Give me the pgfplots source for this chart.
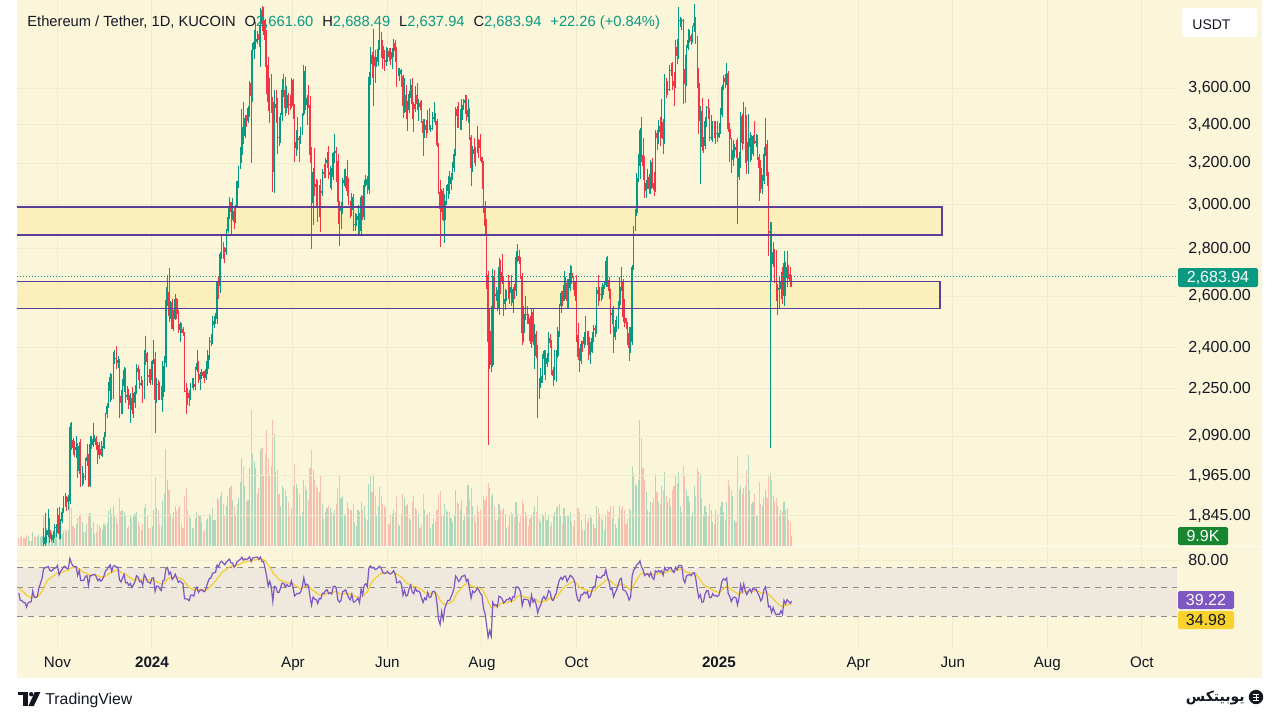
\documentclass[border=0pt]{standalone}
\usepackage{fontspec}
\setmainfont{Liberation Sans}
\newfontfamily\arabicfont[Script=Arabic]{DejaVu Sans}
\TeXXeTstate=1
\usepackage{pgfplots}
\pgfplotsset{compat=1.18}
\usepackage{pgfplotstable}

\definecolor{bgc}{RGB}{251,246,218}
\definecolor{gridc}{RGB}{240,235,204}
\definecolor{tvtext}{RGB}{19,23,34}
\definecolor{tvg}{RGB}{8,153,129}
\definecolor{upc}{RGB}{8,153,129}
\definecolor{dnc}{RGB}{242,54,69}
\definecolor{zonef}{RGB}{251,239,178}
\definecolor{zoned}{RGB}{92,62,152}
\definecolor{bandc}{RGB}{238,233,220}
\definecolor{dashc}{RGB}{140,140,140}
\definecolor{rsic}{RGB}{126,87,194}
\definecolor{mac}{RGB}{245,205,45}
\definecolor{volg}{RGB}{22,135,48}
\definecolor{rsiy}{RGB}{250,210,45}

\pgfplotstableread{
d o h l c v
-86 1647 1662 1627 1633 8
-85 1633 1637 1575 1580 9
-84 1580 1600 1555 1579 10
-83 1579 1595 1560 1567 8
-82 1567 1580 1552 1566 8
-81 1566 1570 1522 1539 11
-80 1539 1566 1525 1553 10
-79 1553 1562 1545 1556 5
-78 1556 1566 1548 1557 5
-77 1557 1630 1553 1599 14
-76 1599 1605 1557 1565 10
-75 1565 1583 1551 1563 9
-74 1563 1574 1540 1567 9
-73 1567 1620 1562 1605 11
-72 1605 1640 1598 1629 9
-71 1629 1680 1615 1664 10
-70 1664 1810 1650 1765 30
-69 1765 1855 1760 1787 32
-68 1787 1805 1770 1790 18
-67 1790 1865 1785 1804 22
-66 1804 1840 1770 1781 17
-65 1781 1797 1772 1776 9
-64 1776 1802 1770 1792 10
-63 1792 1822 1784 1812 12
-62 1812 1822 1785 1815 13
-61 1815 1867 1798 1847 20
-60 1847 1870 1780 1794 18
-59 1794 1836 1780 1832 14
-58 1832 1867 1824 1857 12
-57 1857 1905 1853 1894 15
-56 1894 1912 1870 1900 16
-55 1900 1905 1859 1886 15
-54 1886 1908 1862 1890 16
-53 1890 2135 1880 2121 45
-52 2121 2137 2045 2077 38
-51 2077 2085 2030 2053 20
-50 2053 2073 2022 2045 18
-49 2045 2090 2020 2054 22
-48 2054 2067 1958 1981 28
-47 1981 2070 1970 2058 30
-46 2058 2080 1930 1961 32
-45 1961 1995 1935 1962 24
-44 1962 1975 1940 1964 14
-43 1964 2020 1952 2011 14
-42 2011 2065 1995 2022 22
-41 2022 2032 1930 1934 30
-40 1934 2090 1930 2064 33
-39 2064 2090 2050 2062 18
-38 2062 2135 2055 2080 24
-37 2080 2095 2072 2085 12
-36 2085 2090 2045 2063 14
-35 2063 2071 2000 2028 22
-34 2028 2070 2016 2048 20
-33 2048 2075 2025 2028 18
-32 2028 2058 2022 2052 16
-31 2052 2105 2050 2087 22
-30 2087 2168 2086 2165 20
-29 2165 2200 2150 2192 23
-28 2192 2275 2185 2242 35
-27 2242 2308 2205 2293 38
-26 2293 2305 2210 2232 32
-25 2232 2382 2215 2357 40
-24 2357 2390 2338 2361 30
-23 2361 2405 2320 2344 28
-22 2344 2368 2325 2353 22
-21 2353 2358 2150 2226 48
-20 2226 2245 2165 2202 35
-19 2202 2285 2165 2260 36
-18 2260 2330 2240 2316 34
-17 2316 2325 2200 2221 30
-16 2221 2260 2212 2228 18
-15 2228 2250 2180 2196 20
-14 2196 2235 2135 2218 30
-13 2218 2256 2165 2177 28
-12 2177 2237 2150 2201 30
-11 2201 2265 2185 2240 32
-10 2240 2340 2232 2326 34
-9 2326 2335 2283 2312 24
-8 2312 2320 2250 2265 20
-7 2265 2295 2260 2272 16
-6 2272 2282 2200 2232 22
-5 2232 2392 2215 2380 38
-4 2380 2445 2335 2346 42
-3 2346 2385 2260 2300 30
-2 2300 2320 2270 2292 18
-1 2292 2320 2265 2281 18
0 2281 2355 2265 2352 20
1 2352 2430 2340 2356 36
2 2356 2385 2100 2210 69
3 2210 2290 2200 2269 38
4 2269 2280 2210 2268 36
5 2268 2275 2210 2240 22
6 2240 2260 2210 2222 20
7 2222 2350 2170 2331 45
8 2331 2370 2240 2344 52
9 2344 2640 2330 2584 97
10 2584 2690 2560 2619 66
11 2619 2717 2500 2523 56
12 2523 2580 2510 2577 32
13 2577 2590 2470 2472 28
14 2472 2545 2465 2510 34
15 2510 2610 2505 2588 40
16 2588 2595 2510 2528 35
17 2528 2545 2455 2467 38
18 2467 2500 2420 2490 40
19 2490 2495 2455 2471 22
20 2471 2480 2445 2454 18
21 2454 2460 2240 2243 50
22 2243 2270 2165 2242 58
23 2242 2255 2195 2235 36
24 2235 2245 2190 2218 30
25 2218 2272 2210 2267 28
26 2267 2290 2255 2268 18
27 2268 2290 2245 2256 18
28 2256 2330 2245 2317 28
29 2317 2390 2310 2343 34
30 2343 2350 2270 2283 32
31 2283 2310 2245 2304 30
32 2304 2323 2285 2310 24
33 2310 2315 2290 2296 14
34 2296 2315 2270 2290 16
35 2290 2350 2280 2320 26
36 2320 2390 2305 2373 28
37 2373 2440 2355 2420 32
38 2420 2450 2405 2424 30
39 2424 2520 2415 2488 38
40 2488 2520 2475 2502 26
41 2502 2535 2490 2508 26
42 2508 2665 2490 2660 48
43 2660 2685 2590 2643 46
44 2643 2785 2615 2778 50
45 2778 2865 2755 2825 54
46 2825 2830 2755 2803 42
47 2803 2810 2740 2786 30
48 2786 2890 2775 2880 40
49 2880 2985 2870 2944 50
50 2944 3035 2935 3014 58
51 3014 3015 2860 2967 60
52 2967 3030 2930 2971 46
53 2971 2990 2890 2922 40
54 2922 3000 2915 2991 30
55 2991 3115 2985 3112 42
56 3112 3190 3080 3178 48
57 3178 3285 3170 3242 64
58 3242 3485 3200 3385 88
59 3385 3525 3300 3341 80
60 3341 3450 3330 3434 60
61 3434 3450 3390 3421 44
62 3421 3500 3410 3489 46
63 3489 3640 3440 3628 78
64 3628 3822 3200 3554 136
65 3554 3860 3520 3818 92
66 3818 3940 3765 3868 84
67 3868 3995 3825 3886 78
68 3886 3935 3855 3917 52
69 3917 3970 3840 3880 58
70 3880 4080 3720 4066 96
71 4066 4093 3935 3981 98
72 3981 4085 3910 4005 70
73 4005 4010 3720 3882 92
74 3882 3940 3565 3734 116
75 3734 3780 3475 3524 88
76 3524 3660 3410 3644 70
77 3644 3680 3460 3521 80
78 3521 3550 3060 3159 126
79 3159 3590 3055 3514 112
80 3514 3590 3410 3490 74
81 3490 3545 3250 3334 76
82 3334 3440 3290 3332 52
83 3332 3462 3305 3454 40
84 3454 3650 3420 3589 60
85 3589 3680 3550 3587 58
86 3587 3665 3445 3491 56
87 3491 3610 3465 3560 50
88 3560 3575 3450 3509 44
89 3509 3560 3480 3508 30
90 3508 3655 3490 3647 38
91 3647 3650 3430 3503 60
92 3503 3510 3210 3279 82
93 3279 3370 3240 3311 62
94 3311 3440 3270 3330 58
95 3330 3340 3205 3320 52
96 3320 3390 3300 3353 30
97 3353 3460 3345 3455 34
98 3455 3730 3445 3696 66
99 3696 3725 3480 3505 60
100 3505 3560 3400 3545 56
101 3545 3615 3490 3506 46
102 3506 3555 3200 3242 78
103 3242 3285 2800 3008 96
104 3008 3180 2905 3156 76
105 3156 3280 3040 3101 66
106 3101 3125 2985 3086 60
107 3086 3120 2920 2985 58
108 2985 3095 2945 3067 54
109 3067 3125 2875 3056 70
110 3056 3175 3040 3156 42
111 3156 3195 3130 3148 28
112 3148 3230 3130 3202 34
113 3202 3260 3180 3219 38
114 3219 3290 3125 3142 40
115 3142 3190 3080 3157 38
116 3157 3180 3070 3132 34
117 3132 3260 3120 3252 32
118 3252 3350 3200 3263 36
119 3263 3285 3110 3215 42
120 3215 3250 2910 3013 58
121 3013 3020 2815 2970 70
122 2970 3015 2890 2989 48
123 2989 3130 2955 3104 50
124 3104 3170 3090 3118 32
125 3118 3170 3080 3137 30
126 3137 3220 3040 3064 44
127 3064 3130 3000 3006 38
128 3006 3020 2940 2974 36
129 2974 3055 2950 3037 36
130 3037 3050 2880 2910 42
131 2910 2960 2880 2913 24
132 2913 2955 2900 2930 20
133 2930 3000 2865 2950 36
134 2950 2960 2865 2881 34
135 2881 3045 2865 3037 44
136 3037 3040 2930 2945 36
137 2945 3120 2930 3092 40
138 3092 3145 3085 3122 28
139 3122 3140 3050 3072 26
140 3072 3690 3050 3663 62
141 3663 3840 3620 3789 70
142 3789 3810 3660 3737 54
143 3737 3950 3500 3779 72
144 3779 3820 3630 3727 50
145 3727 3780 3720 3749 30
146 3749 3880 3725 3826 40
147 3826 3975 3820 3893 59
148 3893 3930 3775 3843 50
149 3843 3880 3710 3767 42
150 3767 3820 3700 3747 40
151 3747 3840 3725 3761 38
152 3761 3835 3750 3814 26
153 3814 3830 3755 3780 22
154 3780 3830 3730 3768 30
155 3768 3830 3710 3810 32
156 3810 3885 3780 3865 36
157 3865 3880 3750 3812 34
158 3812 3840 3605 3678 50
159 3678 3715 3670 3681 22
160 3681 3715 3640 3705 20
161 3705 3710 3605 3666 32
162 3666 3675 3435 3498 52
163 3498 3655 3465 3560 48
164 3560 3615 3430 3468 40
165 3468 3530 3365 3478 42
166 3478 3585 3465 3565 28
167 3565 3650 3545 3620 26
168 3620 3655 3430 3511 44
169 3511 3520 3360 3484 50
170 3484 3610 3470 3560 38
171 3560 3630 3480 3513 36
172 3513 3540 3420 3517 32
173 3517 3530 3480 3494 18
174 3494 3535 3410 3418 22
175 3418 3430 3240 3354 52
176 3354 3430 3330 3396 36
177 3396 3425 3330 3372 30
178 3372 3480 3355 3445 32
179 3445 3490 3370 3377 34
180 3377 3400 3360 3380 18
181 3380 3470 3370 3432 22
182 3432 3520 3415 3440 28
183 3440 3465 3400 3420 24
184 3420 3430 3285 3292 36
185 3292 3305 3050 3060 52
186 3060 3120 2810 2982 55
187 2982 3075 2965 3066 32
188 3066 3080 2925 2930 30
189 2930 3050 2825 3020 42
190 3020 3095 3000 3065 36
191 3065 3140 3025 3101 34
192 3101 3165 3050 3100 34
193 3100 3155 3070 3135 28
194 3135 3210 3120 3177 24
195 3177 3275 3160 3246 30
196 3246 3495 3240 3485 56
197 3485 3500 3380 3444 44
198 3444 3520 3380 3389 42
199 3389 3485 3370 3427 36
200 3427 3540 3370 3505 46
201 3505 3540 3480 3517 26
202 3517 3560 3455 3536 30
203 3536 3560 3420 3442 40
204 3442 3540 3410 3480 61
205 3480 3490 3320 3337 46
206 3337 3345 3090 3176 58
207 3176 3290 3160 3275 40
208 3275 3330 3200 3247 30
209 3247 3285 3190 3270 24
210 3270 3395 3255 3321 40
211 3321 3325 3230 3280 34
212 3280 3350 3215 3231 36
213 3231 3235 3075 3203 44
214 3203 3215 2960 2988 50
215 2988 3020 2860 2903 46
216 2903 2935 2630 2690 50
217 2690 2705 2060 2420 63
218 2420 2550 2320 2462 58
219 2462 2560 2310 2335 50
220 2335 2715 2330 2683 52
221 2683 2710 2555 2600 40
222 2600 2640 2580 2609 26
223 2609 2625 2540 2555 26
224 2555 2760 2525 2723 42
225 2723 2750 2610 2700 36
226 2700 2780 2650 2663 36
227 2663 2680 2520 2570 38
228 2570 2630 2545 2590 32
229 2590 2625 2580 2615 18
230 2615 2690 2590 2612 20
231 2612 2665 2570 2637 30
232 2637 2690 2560 2575 34
233 2575 2640 2535 2632 32
234 2632 2650 2590 2620 28
235 2620 2790 2600 2765 44
236 2765 2820 2745 2768 32
237 2768 2795 2735 2746 24
238 2746 2765 2670 2682 30
239 2682 2695 2410 2457 46
240 2457 2560 2420 2528 42
241 2528 2600 2505 2529 34
242 2529 2560 2490 2525 30
243 2525 2530 2490 2513 20
244 2513 2520 2415 2425 28
245 2425 2555 2400 2537 30
246 2537 2555 2410 2422 34
247 2422 2490 2320 2450 40
248 2450 2465 2360 2368 34
249 2368 2410 2150 2226 50
250 2226 2290 2215 2271 28
251 2271 2325 2255 2296 24
252 2296 2375 2270 2358 32
253 2358 2390 2300 2387 30
254 2387 2390 2280 2340 34
255 2340 2380 2330 2362 26
256 2362 2460 2345 2438 30
257 2438 2450 2400 2418 20
258 2418 2430 2300 2316 24
259 2316 2330 2260 2296 30
260 2296 2390 2280 2340 34
261 2340 2390 2275 2370 38
262 2370 2480 2360 2465 40
263 2465 2570 2440 2560 42
264 2560 2620 2535 2612 30
265 2612 2620 2560 2580 22
266 2580 2705 2580 2646 38
267 2646 2680 2590 2653 30
268 2653 2670 2555 2580 30
269 2580 2670 2555 2633 30
270 2633 2730 2620 2696 34
271 2696 2725 2650 2677 24
272 2677 2685 2625 2658 20
273 2658 2665 2580 2603 26
274 2603 2690 2420 2448 44
275 2448 2495 2355 2365 38
276 2365 2400 2310 2350 34
277 2350 2425 2340 2415 26
278 2415 2425 2385 2414 16
279 2414 2460 2400 2440 16
280 2440 2520 2410 2423 32
281 2423 2465 2410 2440 24
282 2440 2465 2355 2372 28
283 2372 2420 2340 2385 30
284 2385 2460 2380 2436 28
285 2436 2485 2420 2475 22
286 2475 2485 2440 2469 18
287 2469 2640 2450 2628 40
288 2628 2690 2560 2608 38
289 2608 2640 2580 2611 32
290 2611 2640 2580 2606 28
291 2606 2655 2590 2645 26
292 2645 2665 2630 2647 16
293 2647 2765 2640 2747 30
294 2747 2770 2640 2666 36
295 2666 2680 2590 2620 34
296 2620 2630 2450 2526 40
297 2526 2555 2490 2535 28
298 2535 2560 2380 2440 40
299 2440 2505 2430 2480 22
300 2480 2520 2460 2508 18
301 2508 2580 2470 2566 28
302 2566 2680 2550 2639 40
303 2639 2720 2620 2659 36
304 2659 2670 2500 2518 40
305 2518 2590 2480 2512 36
306 2512 2515 2470 2493 22
307 2493 2500 2410 2456 28
308 2456 2480 2350 2398 38
309 2398 2480 2380 2423 36
310 2423 2730 2410 2721 80
311 2721 2900 2710 2896 72
312 2896 2980 2880 2962 62
313 2962 3155 2950 3127 60
314 3127 3250 3110 3185 66
315 3185 3380 3125 3370 126
316 3370 3440 3210 3244 108
317 3244 3330 3120 3187 78
318 3187 3240 3030 3063 66
319 3063 3120 3030 3105 54
320 3105 3170 3075 3132 36
321 3132 3150 3050 3075 34
322 3075 3220 3050 3207 44
323 3207 3230 3080 3102 44
324 3102 3160 3040 3071 48
325 3071 3370 3060 3357 72
326 3357 3370 3270 3331 54
327 3331 3425 3300 3392 44
328 3392 3440 3290 3362 42
329 3362 3540 3330 3415 60
330 3415 3430 3250 3327 56
331 3327 3680 3300 3653 74
332 3653 3660 3545 3589 50
333 3589 3640 3560 3594 44
334 3594 3730 3585 3703 48
335 3703 3745 3670 3706 40
336 3706 3750 3590 3643 56
337 3643 3690 3500 3613 60
338 3613 3880 3600 3837 70
339 3837 3890 3740 3786 62
340 3786 4083 3765 3998 74
341 3998 4020 3960 4001 40
342 4001 4015 3940 4004 34
343 4004 4010 3510 3711 80
344 3711 3790 3515 3625 70
345 3625 3850 3610 3834 56
346 3834 3950 3820 3880 50
347 3880 3945 3860 3904 44
348 3904 3920 3850 3875 30
349 3875 3970 3860 3958 34
350 3958 4107 3930 3987 60
351 3987 4025 3855 3877 50
352 3877 3905 3600 3626 78
353 3626 3715 3350 3417 74
354 3417 3500 3100 3474 72
355 3474 3545 3265 3282 48
356 3282 3335 3255 3287 30
357 3287 3440 3275 3418 40
358 3418 3500 3390 3494 34
359 3494 3540 3430 3489 30
360 3489 3490 3315 3332 42
361 3332 3450 3320 3333 36
362 3333 3420 3310 3396 24
363 3396 3420 3330 3349 22
364 3349 3420 3300 3356 36
365 3356 3420 3310 3333 32
366 3333 3410 3330 3354 26
367 3354 3490 3350 3451 40
368 3451 3615 3440 3606 44
369 3606 3675 3590 3657 34
370 3657 3680 3600 3636 26
371 3636 3745 3620 3686 44
372 3686 3700 3360 3379 66
373 3379 3410 3210 3327 60
374 3327 3330 3155 3218 56
375 3218 3320 3190 3268 50
376 3268 3300 3225 3282 26
377 3282 3320 3230 3266 24
378 3266 3330 2910 3135 90
379 3135 3260 3120 3225 56
380 3225 3470 3180 3449 60
381 3449 3455 3270 3304 52
382 3304 3525 3300 3474 58
383 3474 3495 3200 3308 60
384 3308 3450 3150 3214 76
385 3214 3455 3150 3283 91
386 3283 3360 3210 3330 56
387 3330 3345 3220 3250 42
388 3250 3345 3240 3340 44
389 3340 3420 3300 3305 52
390 3305 3350 3285 3316 30
391 3316 3345 3220 3232 30
392 3232 3250 3020 3180 64
393 3180 3220 3055 3077 42
394 3077 3145 3050 3113 40
395 3113 3285 3100 3249 48
396 3249 3437 3240 3298 56
397 3298 3320 3090 3140 48
398 3140 3160 2770 2870 70
399 2870 2920 2051 2880 73
400 2880 2920 2660 2733 66
401 2733 2830 2720 2788 50
402 2788 2800 2655 2686 44
403 2686 2795 2580 2628 48
404 2628 2650 2525 2634 40
405 2634 2680 2550 2629 30
406 2629 2700 2590 2660 36
407 2660 2720 2570 2602 34
408 2602 2790 2560 2740 44
409 2740 2745 2600 2676 36
410 2676 2790 2640 2724 38
411 2724 2730 2670 2691 26
412 2691 2720 2640 2661.60 24
413 2661.60 2688.49 2637.94 2683.94 9.9
}\eth

% RSI (14, Wilder) and its moving average, derived from the closes above
\pgfplotstablecreatecol[create col/expr accum={(13*\pgfmathaccuma+max(\thisrow{c}-\thisrow{o},0))/14}{14}]{ag}\eth
\pgfplotstablecreatecol[create col/expr accum={(13*\pgfmathaccuma+max(\thisrow{o}-\thisrow{c},0))/14}{16}]{al}\eth
\pgfplotstablecreatecol[create col/expr={\thisrow{ag}/(\thisrow{ag}+\thisrow{al})*100}]{rsi}\eth
\pgfplotstablecreatecol[create col/expr accum={(13*\pgfmathaccuma+2*\thisrow{rsi})/15}{50}]{ma}\eth

\pgfplotsset{
  candle/.style n args={2}{draw=none, mark=none,
    error bars/.cd, y dir=minus, y explicit, error mark=none,
    error bar style={line width=#2, draw=#1, solid}},
}

\begin{document}
\begin{tikzpicture}[x=1pt,y=1pt]
\useasboundingbox (0,0) rectangle (640,360);
\fill[white] (0,0) rectangle (640,360);
\fill[bgc] (8.5,21) rectangle (631,360);

% ---------------- RSI pane ----------------
\begin{axis}[at={(8.5pt,35pt)}, anchor=south west, scale only axis,
  width=580pt, height=51.5pt,
  xmin=-87.15, xmax=661.72, ymode=log, ymin=16.47, ymax=101.3,
  axis line style={draw=none}, major tick length=0pt,
  xtick={-61,0,91,152,213,274,366,456,517,578,639},
  xticklabels={Nov,\textbf{2024},Apr,Jun,Aug,Oct,\textbf{2025},Apr,Jun,Aug,Oct},
  xticklabel style={anchor=base, inner sep=0pt, yshift=-8.75pt, font=\fontsize{7.6}{8}\selectfont, text=tvtext},
  ytick={80}, yticklabels={80.00}, yticklabel pos=right,
  yticklabel style={anchor=west, inner sep=0pt, xshift=5.5pt, font=\fontsize{8}{9}\selectfont, text=tvtext},
  xmajorgrids, ymajorgrids, major grid style={draw=gridc, line width=0.5pt},
  clip=true]
\addplot[fill=bandc, draw=none] coordinates {(-87.15,30) (661.72,30) (661.72,70) (-87.15,70)};
\addplot[dashc, line width=0.5pt, dash pattern=on 3pt off 2.5pt] coordinates {(-87.15,70) (661.72,70)};
\addplot[dashc, line width=0.5pt, dash pattern=on 3pt off 2.5pt] coordinates {(-87.15,50) (661.72,50)};
\addplot[dashc, line width=0.5pt, dash pattern=on 3pt off 2.5pt] coordinates {(-87.15,30) (661.72,30)};
\addplot[mac, line width=0.6pt] table[x=d, y=ma] {\eth};
\addplot[rsic, line width=0.6pt] table[x=d, y=rsi] {\eth};
\end{axis}

% ---------------- Volume overlay ----------------
\begin{axis}[at={(8.5pt,87pt)}, anchor=south west, scale only axis,
  width=580pt, height=273pt, xmin=-87.15, xmax=661.72, ymin=0, ymax=546,
  hide axis, clip=true]
\addplot[ycomb, draw=upc, draw opacity=0.32, line width=0.55pt, mark=none,
  restrict expr to domain={\thisrow{c}-\thisrow{o}}{0:5000}] table[x=d, y=v] {\eth};
\addplot[ycomb, draw=dnc, draw opacity=0.28, line width=0.55pt, mark=none,
  restrict expr to domain={\thisrow{c}-\thisrow{o}}{-5000:-0.0001}] table[x=d, y=v] {\eth};
\end{axis}

% ---------------- Price pane (log scale, drawn as ln) ----------------
\begin{axis}[at={(8.5pt,87pt)}, anchor=south west, scale only axis,
  width=580pt, height=273pt, xmin=-87.15, xmax=661.72,
  ymin=7.47336, ymax=8.32619,
  axis line style={draw=none}, major tick length=0pt,
  xtick={-61,0,91,152,213,274,366,456,517,578,639}, xticklabels={},
  ytick={7.520235,7.583248,7.644919,7.718685,7.783224,7.863267,7.937375,8.006368,8.070906,8.131531,8.188689},
  yticklabels={{1,845.00},{1,965.00},{2,090.00},{2,250.00},{2,400.00},{2,600.00},{2,800.00},{3,000.00},{3,200.00},{3,400.00},{3,600.00}},
  yticklabel pos=right,
  yticklabel style={anchor=west, inner sep=0pt, xshift=5.5pt, font=\fontsize{8}{9}\selectfont, text=tvtext},
  xmajorgrids, ymajorgrids, major grid style={draw=gridc, line width=0.5pt},
  clip=true]
% zones (fill)
\addplot[fill=zonef, fill opacity=0.75, draw=none] coordinates {(-100,7.959276) (510.0,7.959276) (510.0,8.003029) (-100,8.003029)};
\addplot[fill=zonef, fill opacity=0.75, draw=none] coordinates {(-100,7.844241) (508.7,7.844241) (508.7,7.886458) (-100,7.886458)};
% wicks
\addplot[restrict expr to domain={\thisrow{c}-\thisrow{o}}{0:5000}, candle={upc}{0.35pt}]
  table[x=d, y expr={ln(\thisrow{h})}, y error minus expr={ln(\thisrow{h})-ln(\thisrow{l})}] {\eth};
\addplot[restrict expr to domain={\thisrow{c}-\thisrow{o}}{-5000:-0.0001}, candle={dnc}{0.35pt}]
  table[x=d, y expr={ln(\thisrow{h})}, y error minus expr={ln(\thisrow{h})-ln(\thisrow{l})}] {\eth};
% bodies
\addplot[restrict expr to domain={\thisrow{c}-\thisrow{o}}{0:5000}, candle={upc}{0.75pt}]
  table[x=d, y expr={ln(\thisrow{c})}, y error minus expr={ln(\thisrow{c})-ln(\thisrow{o})}] {\eth};
\addplot[restrict expr to domain={\thisrow{c}-\thisrow{o}}{-5000:-0.0001}, candle={dnc}{0.75pt}]
  table[x=d, y expr={ln(\thisrow{o})}, y error minus expr={ln(\thisrow{o})-ln(\thisrow{c})}] {\eth};
% zone borders
\addplot[draw=zoned, line width=0.7pt, mark=none] coordinates {(-100,7.959276) (510.0,7.959276) (510.0,8.003029) (-100,8.003029)};
\addplot[draw=zoned, line width=0.7pt, mark=none] coordinates {(-100,7.844241) (508.7,7.844241) (508.7,7.886458) (-100,7.886458)};
% last price line
\addplot[draw=tvg, line width=0.5pt, mark=none, dash pattern=on 0.5pt off 1pt] coordinates {(-87.15,7.895042) (661.72,7.895042)};
\end{axis}

% pane separator
\draw[white, opacity=0.7, line width=0.6pt] (8.5,86.6) -- (631,86.6);

% header legend
\node[anchor=base west, inner sep=0pt, text=tvtext, font=\fontsize{7.35}{8}\selectfont] at (13.5,347)
 {Ethereum / Tether, 1D, KUCOIN\hspace{4.5pt}O\textcolor{tvg}{2,661.60}\hspace{4.5pt}H\textcolor{tvg}{2,688.49}\hspace{4.5pt}L\textcolor{tvg}{2,637.94}\hspace{4.5pt}C\textcolor{tvg}{2,683.94}\hspace{4.5pt}\textcolor{tvg}{+22.26 (+0.84\%)}};

% USDT box
\fill[white, rounded corners=1.5pt] (591,341.5) rectangle (628.5,356);
\node[anchor=base west, inner sep=0pt, text=tvtext, font=\fontsize{7}{8}\selectfont] at (596,345.5) {USDT};

% last price label
\fill[tvg, rounded corners=0.8pt] (589,216.5) rectangle (629,226);
\node[inner sep=0pt, text=white, font=\fontsize{8}{9}\selectfont] at (609,221.25) {2,683.94};

% volume label
\fill[volg, rounded corners=0.8pt] (589,87.5) rectangle (614,96.5);
\node[inner sep=0pt, text=white, font=\fontsize{8}{9}\selectfont] at (601.5,92) {9.9K};

% RSI labels
\fill[rsic, rounded corners=0.8pt] (589,55.5) rectangle (617,64.5);
\node[inner sep=0pt, text=white, font=\fontsize{8}{9}\selectfont] at (603,60) {39.22};
\fill[rsiy, rounded corners=0.8pt] (589,45.5) rectangle (617,54.5);
\node[inner sep=0pt, text=tvtext, font=\fontsize{8}{9}\selectfont] at (603,50) {34.98};

% TradingView logo
\fill[tvtext] (9,12.3) rectangle (13.9,14);
\fill[tvtext] (11.4,7) rectangle (13.9,14);
\fill[tvtext] (15.6,12.9) circle (1.1);
\fill[tvtext] (17.4,14) -- (20.2,14) -- (16.9,7) -- (14.2,7) -- cycle;
\node[anchor=base west, inner sep=0pt, text=tvtext, font=\fontsize{7.9}{9}\selectfont] at (22.5,7.6) {TradingView};

% watermark
\node[anchor=base east, inner sep=0pt, text=tvtext, font=\fontsize{7}{8}\selectfont] at (622.5,9.2) {\arabicfont\bfseries\beginR یوبیتکس\endR};
\fill[tvtext] (628,11.5) circle (3.6);
\draw[white, line width=0.5pt] (626.3,13) -- (629.7,13);
\draw[white, line width=0.5pt] (626.3,11.5) -- (629.7,11.5);
\draw[white, line width=0.5pt] (626.3,10) -- (629.7,10);
\draw[white, line width=0.5pt] (628,10) -- (628,13);
\end{tikzpicture}
\end{document}
